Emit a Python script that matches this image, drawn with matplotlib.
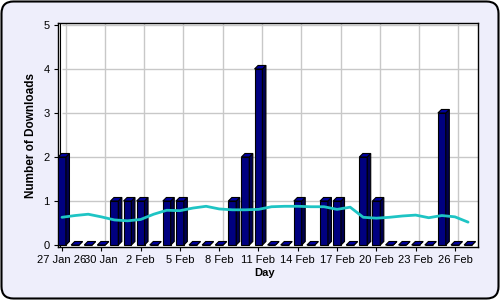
import matplotlib.pyplot as plt
from matplotlib.patches import Polygon, FancyBboxPatch
from matplotlib.transforms import IdentityTransform
import numpy as np

plt.rcParams['font.family'] = ['Liberation Sans', 'DejaVu Sans']

# Data: one bar per day, 27 Jan .. 27 Feb
days = list(range(32))
downloads = [2, 0, 0, 0, 1, 1, 1, 0, 1, 1, 0, 0, 0, 1, 2, 4,
             0, 0, 1, 0, 1, 1, 0, 2, 1, 0, 0, 0, 0, 3, 0, 0]
trend = [0.63, 0.67, 0.70, 0.64, 0.57, 0.55, 0.58, 0.70, 0.79, 0.78, 0.84,
         0.88, 0.82, 0.80, 0.80, 0.81, 0.87, 0.88, 0.88, 0.87, 0.87, 0.81,
         0.86, 0.63, 0.61, 0.63, 0.66, 0.68, 0.62, 0.67, 0.64, 0.52]
tick_days = [0, 3, 6, 9, 12, 15, 18, 21, 24, 27, 30]
tick_labels = ["27 Jan 26", "30 Jan", "2 Feb", "5 Feb", "8 Feb", "11 Feb",
               "14 Feb", "17 Feb", "20 Feb", "23 Feb", "26 Feb"]

BAR_W = 0.6
DX, DY = 0.27, 0.08   # fake 3D depth in data units

fig = plt.figure(figsize=(5, 3), dpi=100)
fig.patch.set_facecolor("white")

# Rounded frame
frame = FancyBboxPatch((1.5, 1.5), 497, 297, boxstyle="round,pad=0,rounding_size=12",
                       transform=IdentityTransform(), facecolor="#EEEEFB",
                       edgecolor="black", linewidth=1.5, zorder=0)
fig.add_artist(frame)

ax = fig.add_axes([58 / 500, 53 / 300, 420 / 500, 224 / 300])
ax.set_facecolor("white")
ax.set_xlim(-0.305, 31.76)
ax.set_ylim(-0.045, 5.045)

# back-wall grid
ax.vlines(np.array(tick_days) + DX, DY, 5.045, color="#C8C8C8", lw=1, zorder=1)
ax.hlines(range(1, 6), -0.305 + DX, 31.76, color="#C8C8C8", lw=1, zorder=1)
ax.axvline(-0.305 + 0.15, color="black", lw=0.8, zorder=1)

# bars with side and top faces
ax.bar(days, downloads, width=BAR_W, color="#000080", edgecolor="black",
       linewidth=0.8, zorder=3)
for d, v in zip(days, downloads):
    x0, x1 = d - BAR_W / 2, d + BAR_W / 2
    side = Polygon([(x1, 0), (x1 + DX, DY), (x1 + DX, v + DY), (x1, v)],
                   closed=True, facecolor="#000050", edgecolor="black", lw=0.8, zorder=3)
    top = Polygon([(x0, v), (x0 + DX, v + DY), (x1 + DX, v + DY), (x1, v)],
                  closed=True, facecolor="#0000A0", edgecolor="black", lw=0.8, zorder=3)
    ax.add_patch(side)
    ax.add_patch(top)

ax.plot(days, trend, color="#1EC4C4", lw=2, zorder=4, solid_capstyle="round")

ax.set_xticks(tick_days)
ax.set_xticklabels(tick_labels)
ax.set_yticks(range(6))
ax.tick_params(labelsize=8, length=3, width=0.8)
ax.tick_params(axis="x", pad=3)
ax.tick_params(axis="y", pad=3)
for s in ax.spines.values():
    s.set_linewidth(1)

fig.text(265 / 500, 1 - 273 / 300, "Day", ha="center", va="center",
         fontsize=8, fontweight="bold")
fig.text(31 / 500, 1 - 136 / 300, "Number of Downloads", ha="center", va="center",
         rotation=90, fontsize=8.5, fontweight="bold")

fig.savefig("out.png", dpi=100)
